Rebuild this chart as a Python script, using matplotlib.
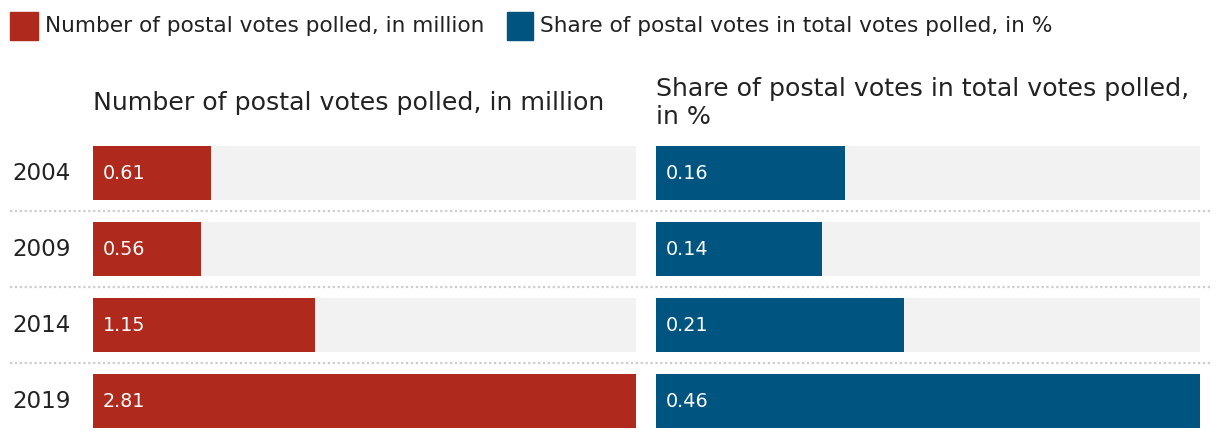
import matplotlib
matplotlib.use("Agg")
import matplotlib.pyplot as plt
from matplotlib.patches import Rectangle

years = ["2004", "2009", "2014", "2019"]
postal_votes_million = [0.61, 0.56, 1.15, 2.81]
postal_share_pct = [0.16, 0.14, 0.21, 0.46]
series_names = ["Number of postal votes polled, in million",
                "Share of postal votes in total votes polled, in %"]
panel_titles = ["Number of postal votes polled, in million",
                "Share of postal votes in total votes polled,\nin %"]

RED = "#AF291C"
BLUE = "#005480"
GRAY = "#F2F2F2"
TXT = "#222222"

W, H = 1220, 440
fig = plt.figure(figsize=(W / 100, H / 100), dpi=100)
plt.rcParams['font.family'] = ['DejaVu Sans']


def fx(px):
    return px / W


def fy(py):
    return 1 - py / H


top_px, bot_px = 146, 428
bar_h = 54 / 76
ylim = (3 + bar_h / 2, -bar_h / 2)


def fit_text(t, target_w):
    fig.canvas.draw()
    w = t.get_window_extent().width
    t.set_fontsize(t.get_fontsize() * target_w / w)


# background axis for separators and year labels
axbg = fig.add_axes([fx(10), fy(bot_px), fx(1200), fy(top_px) - fy(bot_px)])
axbg.set_xlim(0, 1200)
axbg.set_ylim(*ylim)
axbg.axis("off")
for y in [0.5, 1.5, 2.5]:
    axbg.axhline(y, color="#CCCCCC", lw=1.6, ls=(0, (1, 1.2)))
for i, yr in enumerate(years):
    axbg.text(2, i, yr, fontsize=16.6, color=TXT, va="center", ha="left")

panels = [
    (93, 636, postal_votes_million, RED),
    (656, 1200, postal_share_pct, BLUE),
]
for (x0, x1, vals, col), title in zip(panels, panel_titles):
    ax = fig.add_axes([fx(x0), fy(bot_px), fx(x1 - x0), fy(top_px) - fy(bot_px)])
    vmax = max(vals)
    ypos = list(range(len(years)))
    ax.barh(ypos, [vmax] * len(vals), height=bar_h, color=GRAY)
    ax.barh(ypos, vals, height=bar_h, color=col)
    ax.set_xlim(0, vmax)
    ax.set_ylim(*ylim)
    ax.axis("off")
    for y, v in zip(ypos, vals):
        ax.annotate(f"{v:.2f}", (0, y), xytext=(7.2, 0), textcoords="offset points",
                    fontsize=13.8, color="white", va="center", ha="left")

# panel titles
t1 = fig.text(fx(93), fy(103), panel_titles[0], fontsize=17, color=TXT, va="center", ha="left")
fit_text(t1, 513)
t2 = fig.text(fx(656), fy(103), panel_titles[1], fontsize=t1.get_fontsize(), color=TXT,
              va="center", ha="left", linespacing=1.25)

# legend
fig.patches.append(Rectangle((fx(10), fy(40)), fx(28), fy(12) - fy(40),
                             transform=fig.transFigure, color=RED))
l1 = fig.text(fx(45), fy(26), series_names[0], fontsize=15, color=TXT, va="center", ha="left")
fit_text(l1, 440)
fig.patches.append(Rectangle((fx(507), fy(40)), fx(26), fy(12) - fy(40),
                             transform=fig.transFigure, color=BLUE))
l2 = fig.text(fx(540), fy(26), series_names[1], fontsize=l1.get_fontsize(), color=TXT,
              va="center", ha="left")

fig.savefig("out.png", dpi=100)
